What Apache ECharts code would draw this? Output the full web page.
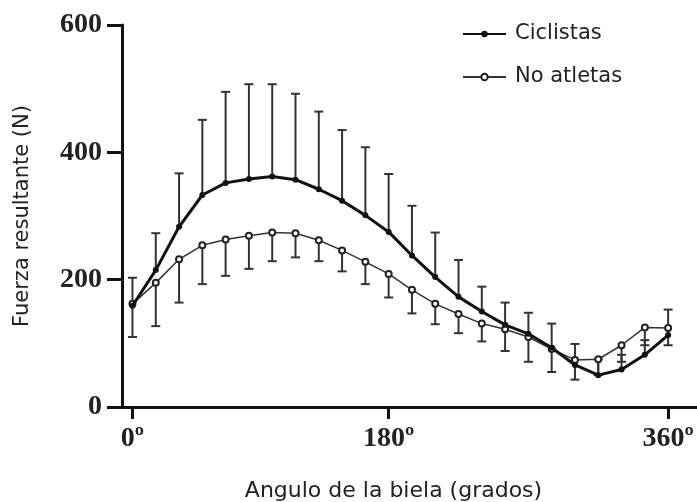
<!DOCTYPE html>
<html>
<head>
<meta charset="utf-8">
<script src="https://cdn.jsdelivr.net/npm/echarts@6/dist/echarts.min.js"></script>
<style>
  html, body { margin: 0; padding: 0; background: #fff; }
  #chart { width: 697px; height: 502px; }
</style>
</head>
<body>
<div id="chart"></div>
<script>
// 24 puntos a lo largo del ciclo de la biela (0º ... 360º)
const ciclistasMedia = [159, 215, 283, 333, 352, 358, 362, 357, 342, 324, 301, 275, 238, 204, 173, 150, 129, 115, 93, 66, 50, 59, 82, 113];
const ciclistasDE    = [44, 58, 84, 118, 143, 149, 145, 135, 122, 111, 107, 91, 78, 70, 58, 39, 35, 33, 38, 33, 25, 23, 23, 40];
const noAtletasMedia = [162, 195, 232, 254, 263, 269, 274, 273, 262, 246, 228, 209, 184, 162, 146, 131, 122, 110, 91, 74, 75, 97, 125, 124];
const noAtletasDE    = [52, 68, 68, 61, 57, 52, 45, 38, 33, 33, 35, 37, 37, 32, 30, 28, 34, 39, 36, 31, 25, 26, 28, 27];

const tickPositions = [0, 11, 23];
const tickLabels = ['0º', '180º', '360º'];

const sans = 'DejaVu Sans';
const serif = 'Liberation Serif';

// barras de error: ciclistas hacia arriba, no atletas hacia abajo
const errCiclistas = ciclistasMedia.map((m, i) => [i, m, m + ciclistasDE[i]]);
const errNoAtletas = noAtletasMedia.map((m, i) => [i, m, m - noAtletasDE[i]]);

function renderError(params, api) {
  const p0 = api.coord([api.value(0), api.value(1)]);
  const p1 = api.coord([api.value(0), api.value(2)]);
  const half = 4.5;
  const style = { stroke: '#333', lineWidth: 2 };
  return {
    type: 'group',
    children: [
      { type: 'line', shape: { x1: p0[0], y1: p0[1], x2: p1[0], y2: p1[1] }, style },
      { type: 'line', shape: { x1: p1[0] - half, y1: p1[1], x2: p1[0] + half, y2: p1[1] }, style }
    ]
  };
}

const chart = echarts.init(document.getElementById('chart'));

const option = {
  animation: false,
  backgroundColor: '#fff',
  legend: {
    data: ['Ciclistas', 'No atletas'],
    orient: 'vertical',
    left: 457,
    top: 17,
    itemWidth: 43,
    itemHeight: 8,
    itemGap: 19,
    textStyle: { fontFamily: sans, fontSize: 21, color: '#222', lineHeight: 24, padding: [0, 0, 0, 4] }
  },
  grid: { left: 122, top: 25, right: 0, bottom: 95, containLabel: false, outerBoundsMode: 'none' },
  xAxis: {
    type: 'value',
    min: -0.45,
    max: 24.24,
    name: 'Angulo de la biela (grados)',
    nameLocation: 'middle',
    nameGap: 73,
    nameTextStyle: { fontFamily: sans, fontSize: 22, color: '#222', padding: [0, 32, 0, 0] },
    axisLine: { show: true, onZero: false, lineStyle: { color: '#111', width: 3 } },
    axisTick: { show: true, customValues: tickPositions, length: 12, lineStyle: { color: '#111', width: 3 } },
    axisLabel: {
      customValues: tickPositions,
      formatter: v => tickLabels[tickPositions.indexOf(Math.round(v))] || '',
      fontFamily: serif, fontWeight: 'bold', fontSize: 28, color: '#222', margin: 18
    },
    splitLine: { show: false }
  },
  yAxis: {
    type: 'value',
    min: 0,
    max: 600,
    interval: 200,
    name: 'Fuerza resultante (N)',
    nameLocation: 'middle',
    nameGap: 89,
    nameTextStyle: { fontFamily: sans, fontSize: 21, color: '#222' },
    axisLine: { show: true, onZero: false, lineStyle: { color: '#111', width: 3 } },
    axisTick: { show: true, length: 15, lineStyle: { color: '#111', width: 3 } },
    axisLabel: { fontFamily: serif, fontWeight: 'bold', fontSize: 28, color: '#222', margin: 20 },
    splitLine: { show: false }
  },
  series: [
    {
      name: 'Ciclistas DE',
      type: 'custom',
      renderItem: renderError,
      data: errCiclistas,
      encode: { x: 0, y: [1, 2] },
      z: 1
    },
    {
      name: 'No atletas DE',
      type: 'custom',
      renderItem: renderError,
      data: errNoAtletas,
      encode: { x: 0, y: [1, 2] },
      z: 1
    },
    {
      name: 'No atletas',
      type: 'line',
      data: noAtletasMedia.map((v, i) => [i, v]),
      symbol: 'emptyCircle',
      symbolSize: 6,
      showAllSymbol: true,
      lineStyle: { color: '#333', width: 1.5 },
      itemStyle: { color: '#222', borderWidth: 1.5 },
      z: 3
    },
    {
      name: 'Ciclistas',
      type: 'line',
      data: ciclistasMedia.map((v, i) => [i, v]),
      symbol: 'circle',
      symbolSize: 6,
      showAllSymbol: true,
      lineStyle: { color: '#111', width: 3 },
      itemStyle: { color: '#111' },
      z: 4
    }
  ]
};

chart.setOption(option);
</script>
</body>
</html>
